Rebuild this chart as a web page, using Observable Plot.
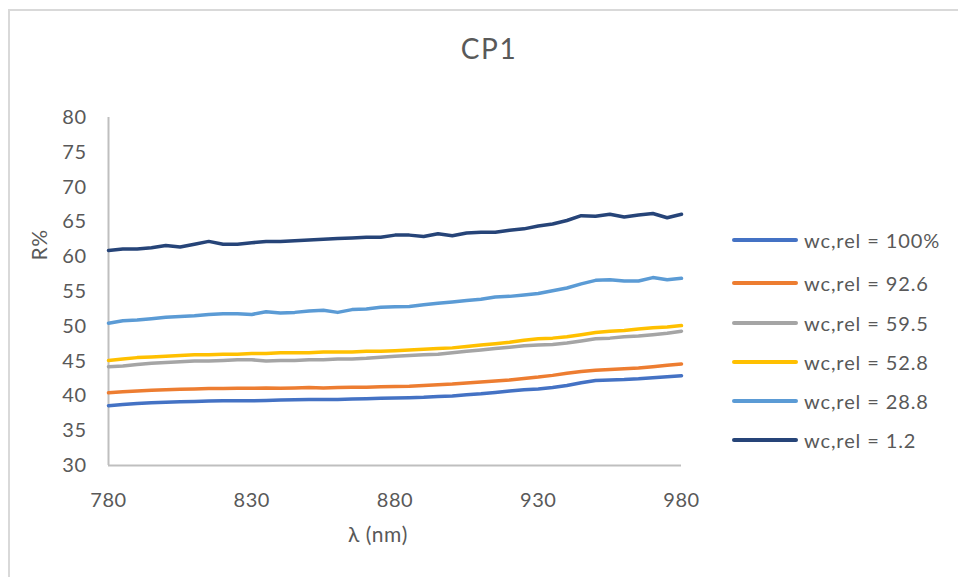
<!DOCTYPE html>
<html>
<head>
<meta charset="utf-8">
<script src="https://cdn.jsdelivr.net/npm/d3@7"></script>
<script src="https://cdn.jsdelivr.net/npm/@observablehq/plot@0.6"></script>
<style>
  html, body { margin: 0; padding: 0; background: #fff; }
  #wrap { position: relative; width: 958px; height: 577px; overflow: hidden; font-family: Lato, "Open Sans", sans-serif; color: #595959; }
  #frame { position: absolute; left: 8px; top: 9px; width: 2000px; height: 2000px; border-left: 2px solid #d9d9d9; border-top: 2px solid #d9d9d9; }
  #title { position: absolute; left: 10px; width: 958px; top: 31px; text-align: center; font-size: 28px; letter-spacing: 1.5px; }
  #chart { position: absolute; left: 0; top: 0; }
  #legend { position: absolute; left: 732px; top: 226px; }
  .row { position: absolute; left: 0; height: 28px; white-space: nowrap; display: flex; align-items: center; }
  .sw { width: 66px; height: 4px; border-radius: 2px; margin-right: 6px; }
  .lab { font-size: 20px; letter-spacing: 0.9px; color: #595959; }
</style>
</head>
<body>
<div id="wrap">
  <div id="frame"></div>
  <div id="chart"></div>
  <div id="title">CP1</div>
  <div id="legend"></div>
</div>
<script>
const wavelength = [780,785,790,795,800,805,810,815,820,825,830,835,840,845,850,855,860,865,870,875,880,885,890,895,900,905,910,915,920,925,930,935,940,945,950,955,960,965,970,975,980];

const seriesNames = ["wc,rel = 100%","wc,rel = 92.6","wc,rel = 59.5","wc,rel = 52.8","wc,rel = 28.8","wc,rel = 1.2"];
const seriesColors = ["#4472C4","#ED7D31","#A5A5A5","#FFC000","#5B9BD5","#264478"];

const r100 = [38.6,38.75,38.9,39.0,39.1,39.15,39.2,39.25,39.3,39.3,39.3,39.35,39.4,39.45,39.5,39.5,39.5,39.55,39.6,39.65,39.7,39.75,39.8,39.9,40.0,40.15,40.3,40.5,40.7,40.9,41.0,41.2,41.5,41.9,42.2,42.3,42.35,42.45,42.6,42.75,42.9];
const r926 = [40.45,40.6,40.7,40.8,40.9,40.95,41.0,41.05,41.05,41.1,41.1,41.15,41.1,41.15,41.2,41.15,41.2,41.25,41.25,41.3,41.35,41.4,41.5,41.6,41.7,41.85,42.0,42.15,42.3,42.5,42.7,42.95,43.25,43.5,43.7,43.8,43.9,44.0,44.2,44.4,44.6];
const r595 = [44.2,44.3,44.5,44.7,44.8,44.9,45.0,45.0,45.1,45.2,45.2,45.0,45.1,45.1,45.2,45.2,45.3,45.3,45.4,45.55,45.7,45.8,45.9,46.0,46.2,46.4,46.6,46.8,47.0,47.2,47.3,47.4,47.6,47.9,48.2,48.3,48.5,48.6,48.8,49.0,49.3];
const r528 = [45.1,45.3,45.5,45.6,45.7,45.8,45.9,45.9,46.0,46.0,46.1,46.1,46.2,46.2,46.2,46.3,46.3,46.3,46.4,46.4,46.5,46.6,46.7,46.8,46.9,47.1,47.3,47.5,47.7,48.0,48.2,48.3,48.5,48.8,49.1,49.3,49.4,49.6,49.8,49.9,50.1];
const r288 = [50.45,50.8,50.9,51.1,51.3,51.4,51.5,51.7,51.8,51.8,51.7,52.1,51.9,52.0,52.2,52.3,52.0,52.4,52.5,52.75,52.8,52.85,53.1,53.3,53.5,53.7,53.9,54.2,54.3,54.5,54.7,55.1,55.5,56.1,56.6,56.7,56.5,56.5,57.0,56.7,56.9];
const r12 = [60.9,61.1,61.1,61.3,61.6,61.4,61.8,62.2,61.8,61.8,62.0,62.2,62.2,62.3,62.4,62.5,62.6,62.7,62.8,62.8,63.1,63.1,62.9,63.3,63.0,63.4,63.5,63.5,63.8,64.0,64.4,64.7,65.2,65.9,65.8,66.1,65.7,66.0,66.2,65.6,66.1];

const yTicks = [30,35,40,45,50,55,60,65,70,75,80];
const xTicks = [780,830,880,930,980];

const allSeries = [r100, r926, r595, r528, r288, r12];
const data = [];
allSeries.forEach((vals, i) => {
  vals.forEach((v, j) => data.push({ series: seriesNames[i], x: wavelength[j], y: v }));
});

const chart = Plot.plot({
  width: 958,
  height: 577,
  marginLeft: 108,
  marginRight: 277,
  marginTop: 117,
  marginBottom: 112,
  style: { fontFamily: "Lato, 'Open Sans', sans-serif", color: "#595959", background: "transparent", overflow: "visible", letterSpacing: "0.5px" },
  x: { domain: [780, 980], ticks: xTicks, label: null },
  y: { domain: [30, 80], ticks: yTicks, label: null },
  color: { domain: seriesNames, range: seriesColors },
  marks: [
    Plot.ruleX([780], { stroke: "#bfbfbf", strokeWidth: 2 }),
    Plot.ruleY([30], { stroke: "#bfbfbf", strokeWidth: 2 }),
    Plot.axisY({ ticks: yTicks, tickSize: 0, tickPadding: 22, fontSize: 20, label: null }),
    Plot.axisX({ ticks: xTicks, tickSize: 0, tickPadding: 27, fontSize: 20, label: null }),
    Plot.line(data, { x: "x", y: "y", z: "series", stroke: "series", strokeWidth: 3.5, curve: "linear" }),
    Plot.text(["λ (nm)"], { frameAnchor: "bottom", dx: -17, dy: 76, fontSize: 21, fill: "#595959" }),
    Plot.text(["R%"], { frameAnchor: "left", dx: -68, dy: -31, rotate: -90, fontSize: 21, fill: "#595959" })
  ]
});
document.getElementById("chart").appendChild(chart);

const legend = document.getElementById("legend");
const rowY = [0, 43, 83, 122, 161, 200];
seriesNames.forEach((name, i) => {
  const row = document.createElement("div");
  row.className = "row";
  row.style.top = rowY[i] + "px";
  const sw = document.createElement("div");
  sw.className = "sw";
  sw.style.background = seriesColors[i];
  const lab = document.createElement("span");
  lab.className = "lab";
  lab.textContent = name;
  row.appendChild(sw);
  row.appendChild(lab);
  legend.appendChild(row);
});
</script>
</body>
</html>
